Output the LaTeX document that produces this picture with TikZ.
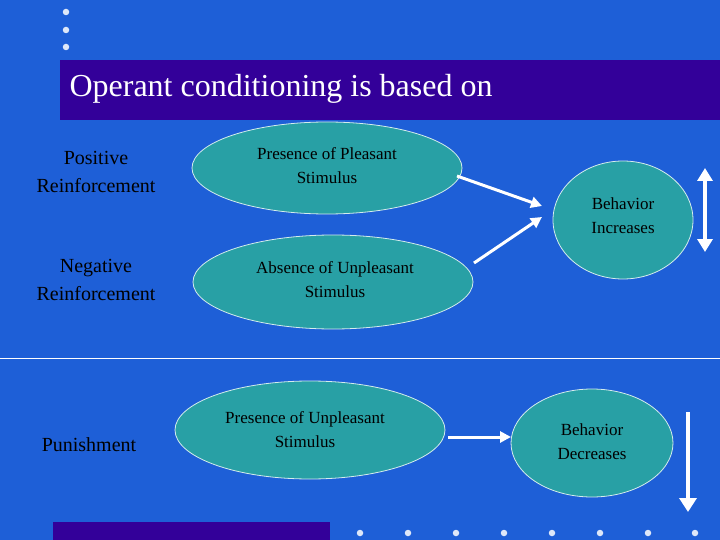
\documentclass[tikz,border=0pt]{standalone}
\usepackage{fontspec}
\setmainfont{Liberation Serif}
\usetikzlibrary{arrows.meta}
\definecolor{bg}{RGB}{30,95,215}
\definecolor{bar}{RGB}{51,0,153}
\definecolor{teal1}{RGB}{40,160,165}
\begin{document}
\begin{tikzpicture}[x=1pt,y=-1pt,
  ell/.style={draw=white!80!teal1,line width=0.8pt,fill=teal1},
  lbl/.style={align=center,font=\fontsize{20}{28}\selectfont},
  sm/.style={align=center,font=\fontsize{17}{24}\selectfont},
  arr/.style={white,line width=3pt,-{Triangle[length=11pt,width=11pt]}},
  dot/.style={circle,fill=white!85!bg,inner sep=0,minimum size=6.5pt}]
\fill[bg] (0,0) rectangle (720,540);
\useasboundingbox (0,0) rectangle (720,540);
\fill[bar] (60,60) rectangle (720,120);
\fill[bar] (53,522) rectangle (330,540);
\draw[white,line width=0.6pt] (0,358) -- (720,358);
\foreach \y [count=\i] in {12,30,47} \node[dot] (ld\i) at (66,\y) {};
\foreach \x [count=\i] in {360,408,456,504,552,600,648,695} \node[dot] (bd\i) at (\x,533) {};
\node[anchor=west,font=\fontsize{32}{36}\selectfont,white] (title) at (66,89) {Operant conditioning is based on};
\node[lbl] (pr) at (96,172) {Positive\\Reinforcement};
\node[lbl] (nr) at (96,280) {Negative\\Reinforcement};
\node[lbl] (pu) at (89,445) {Punishment};
\draw[ell] (327,168) ellipse [x radius=135,y radius=46];
\node[sm] (e1) at (327,166) {Presence of Pleasant\\Stimulus};
\draw[ell] (333,282) ellipse [x radius=140,y radius=47];
\node[sm] (e2) at (335,280) {Absence of Unpleasant\\Stimulus};
\draw[ell] (310,430) ellipse [x radius=135,y radius=49];
\node[sm] (e3) at (305,430) {Presence of Unpleasant\\Stimulus};
\draw[ell] (623,220) ellipse [x radius=70,y radius=59];
\node[sm] (e4) at (623,216) {Behavior\\Increases};
\draw[ell] (592,443) ellipse [x radius=81,y radius=54];
\node[sm] (e5) at (592,442) {Behavior\\Decreases};
\coordinate (a1s) at (457,176); \coordinate (a1e) at (542,206);
\coordinate (a2s) at (474,263); \coordinate (a2e) at (542,217);
\draw[arr] (a1s) -- (a1e);
\draw[arr] (a2s) -- (a2e);
\coordinate (a3s) at (448,437); \coordinate (a3e) at (511,437);
\draw[arr] (a3s) -- (a3e);
\coordinate (v1) at (705,168); \coordinate (v2) at (705,252);
\draw[white,line width=3.5pt,{Triangle[length=13pt,width=15pt]}-{Triangle[length=13pt,width=15pt]}] (v1) -- (v2);
\coordinate (v3) at (688,412); \coordinate (v4) at (688,512);
\draw[white,line width=3.5pt,-{Triangle[length=14pt,width=17pt]}] (v3) -- (v4);
\end{tikzpicture}
\end{document}
